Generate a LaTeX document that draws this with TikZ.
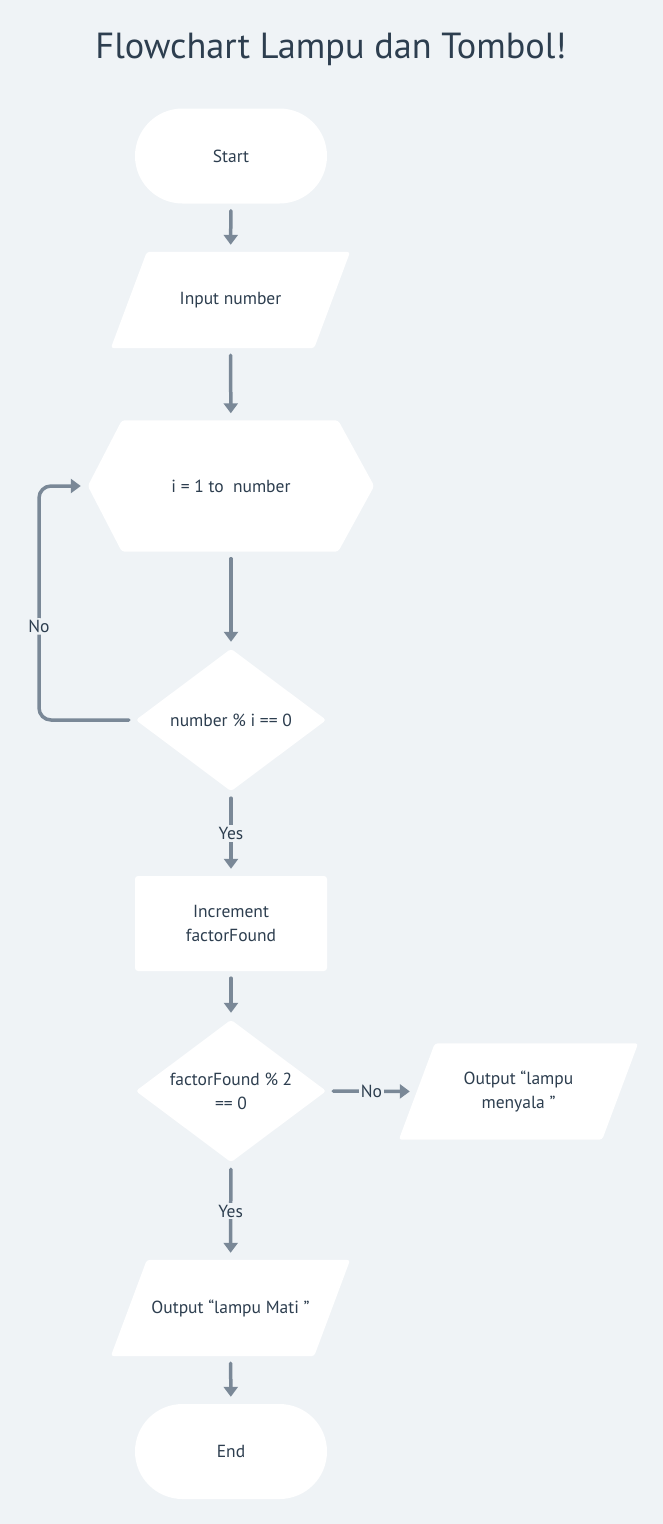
\documentclass[tikz,border=0pt]{standalone}
\usepackage{fontspec}
\setmainfont{PT Sans}
\usetikzlibrary{arrows.meta,calc,backgrounds}
\definecolor{bg}{HTML}{EFF3F6}
\definecolor{ink}{HTML}{2D3E4F}
\definecolor{wire}{HTML}{7A8897}

\begin{document}
\begin{tikzpicture}[x=1pt,y=-1pt,
  txt/.style={text=ink,font=\fontsize{17.5}{24}\selectfont,align=center},
  slot/.style={txt,rectangle,inner sep=0pt},
  term/.style={slot,fill=white,rounded corners=47.5pt,minimum width=192pt,minimum height=95pt},
  proc/.style={slot,fill=white,rounded corners=3pt,minimum width=192pt,minimum height=95pt},
  io/.style={slot,minimum width=239pt,minimum height=96pt},
  hexa/.style={slot,minimum width=286pt,minimum height=131pt},
  decision/.style={slot,minimum width=190pt,minimum height=142pt},
  panel/.style={fill=white,rounded corners=3pt},
  lbl/.style={txt,fill=bg,inner sep=2pt},
  arr/.style={draw=wire,line width=3.5pt,line cap=round,
    -{Triangle[width=14pt,length=10pt]},shorten <=7pt,shorten >=7pt}]

% title
\node[text=ink,font=\fontsize{36.3}{44}\selectfont] (title) at (331,49) {Flowchart Lampu dan Tombol!};

% terminals, steps and decisions (text holders)
\node[term] (start) at (231,156) {Start};
\node[io] (input) at (230.5,300) {Input number};
\node[hexa] (loop) at (231,486) {i = 1 to\ \ number};
\node[decision] (d1) at (231,720) {number \% i == 0};
\node[proc] (inc) at (231,923.5) {Increment\\factorFound};
\node[decision] (d2) at (231,1091) {factorFound \% 2\\== 0};
\node[io] (on) at (518.5,1091.5) {Output “lampu\\menyala ”};
\node[io] (off) at (230.5,1308) {Output “lampu Mati ”};
\node[term] (end) at (231,1451.5) {End};

% canvas and shape outlines behind the text
\begin{scope}[on background layer]
  \path[fill=bg] (0,0) rectangle (663,1524);
  \foreach \n in {input,on,off}
    \path[panel] (\n.south west) -- ($(\n.north west)+(36,0)$) -- (\n.north east)
      -- ($(\n.south east)+(-36,0)$) -- cycle;
  \path[panel] (loop.west) -- ($(loop.north west)+(34,0)$) -- ($(loop.north east)+(-36,0)$)
    -- (loop.east) -- ($(loop.south east)+(-36,0)$) -- ($(loop.south west)+(34,0)$) -- cycle;
  \foreach \n in {d1,d2}
    \path[panel] (\n.north) -- (\n.east) -- (\n.south) -- (\n.west) -- cycle;
\end{scope}

% connectors
\coordinate (lp) at (39,0);
\draw[arr] (start) -- (input);
\draw[arr] (input) -- (loop);
\draw[arr] (loop) -- (d1);
\draw[arr,rounded corners=12pt] (d1.west) -- (lp |- d1.west)
  -- node[lbl,pos=0.4] (no1) {No} (lp |- loop.west) -- (loop.west);
\draw[arr] (d1) -- node[lbl] (yes1) {Yes} (inc);
\draw[arr] (inc) -- (d2);
\draw[arr] (d2.east) -- node[lbl] (no2) {No} ($(on.west)+(18,0)$);
\draw[arr] (d2) -- node[lbl] (yes2) {Yes} (off);
\draw[arr] (off) -- (end);
\end{tikzpicture}
\end{document}
